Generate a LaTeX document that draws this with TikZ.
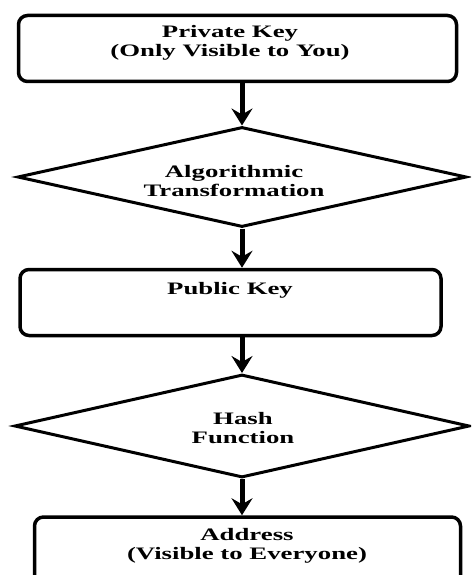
\documentclass[tikz,border=0pt]{standalone}
\usepackage{fontspec}
\newfontfamily\labelfont[FakeStretch=1.53]{Liberation Serif}
\usetikzlibrary{shapes.geometric,arrows.meta}
\begin{document}
\begin{tikzpicture}[x=1pt,y=-1pt,
  box/.style={draw,line width=3.5pt,rounded corners=9pt,inner sep=0pt},
  decision/.style={draw,line width=3pt,diamond,inner sep=0pt},
  lbl/.style={font=\labelfont\bfseries\fontsize{17.5}{19.5}\selectfont,align=center,inner sep=0pt},
  flow/.style={line width=5pt,-{Stealth[length=17pt,width=21pt,inset=6pt]}}]
\useasboundingbox (0,0) rectangle (471,575);
\clip (0,0) rectangle (471,575);

% shapes of the flow
\node[box,minimum width=438pt,minimum height=66pt] (b1) at (237.5,48.5) {};
\node[decision,minimum width=449pt,minimum height=100pt] (d1) at (242,177) {};
\node[box,minimum width=421pt,minimum height=66pt] (b2) at (230.5,302.5) {};
\node[decision,minimum width=455pt,minimum height=103pt] (d2) at (242,426) {};
\node[box,minimum width=426pt,minimum height=80pt] (b3) at (247.5,557) {};

% labels
\node[lbl] (t1) at (230,43) {Private Key\\(Only Visible to You)};
\node[lbl] (t2) at (234,181) {Algorithmic\\Transformation};
\node[lbl] (t3) at (230,290) {Public Key};
\node[lbl] (t4) at (243,428) {Hash\\Function};
\node[lbl] (t5) at (247,546) {Address\\(Visible to Everyone)};

% connectors
\draw[flow] (d1.north |- b1.south) -- (d1.north);
\draw[flow] (d1.south) -- (d1.south |- b2.north);
\draw[flow] (d2.north |- b2.south) -- (d2.north);
\draw[flow] (d2.south) -- (d2.south |- b3.north);
\end{tikzpicture}
\end{document}
